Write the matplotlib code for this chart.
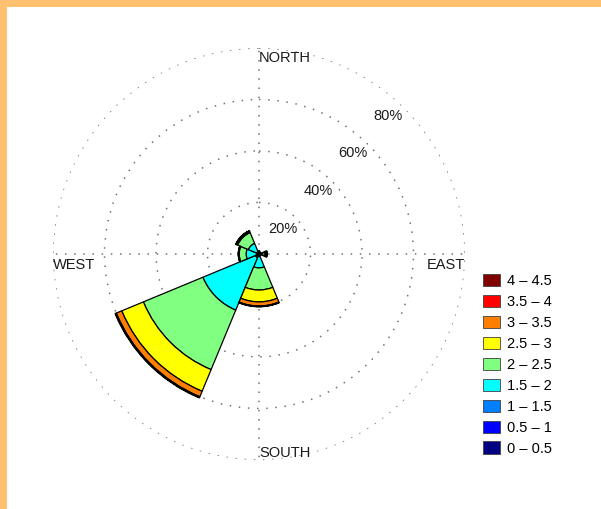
import numpy as np
import matplotlib
matplotlib.use('Agg')
import matplotlib.pyplot as plt
from matplotlib.patches import Patch, Rectangle

plt.rcParams['font.family'] = ['Liberation Sans', 'DejaVu Sans']

# --- Wind rose data (frequency in % per speed class and direction) ---
directions = [0, 45, 90, 135, 180, 225, 270, 315]   # N, NE, E, SE, S, SW, W, NW
speed_labels = ['0 – 0.5', '0.5 – 1', '1 – 1.5', '1.5 – 2', '2 – 2.5',
                '2.5 – 3', '3 – 3.5', '3.5 – 4', '4 – 4.5']
speed_colors = ['#000080', '#0000FF', '#0080FF', '#00FFFF', '#80FF80',
                '#FFFF00', '#FF8000', '#FF0000', '#800000']

# one row per speed class, one column per direction
freq = np.array([
    # N    NE    E    SE    S     SW    W     NW
    [0.3, 0.2, 0.3, 0.2, 0.3,  0.3, 0.3, 0.3],
    [0.3, 0.2, 0.3, 0.2, 0.3,  0.4, 0.3, 0.3],
    [0.4, 0.2, 0.4, 0.2, 0.4,  0.8, 0.4, 0.4],
    [0.0, 0.0, 0.5, 0.0, 4.4, 22.1, 4.0, 3.5],
    [0.0, 0.0, 0.8, 0.0, 8.6, 25.0, 2.7, 4.5],
    [0.0, 0.0, 0.3, 0.0, 4.6,  9.1, 0.2, 0.3],
    [0.0, 0.0, 0.3, 0.0, 1.6,  2.3, 0.1, 0.3],
    [0.0, 0.0, 0.2, 0.0, 0.2,  0.3, 0.0, 0.1],
    [0.0, 0.0, 0.1, 0.0, 0.1,  0.2, 0.0, 0.1],
])
rings = [20, 40, 60, 80]

fig = plt.figure(figsize=(6.01, 5.09), dpi=100, facecolor='#FFC170')
fig.add_artist(Rectangle((7 / 601, 0), 1, 1 - 7 / 509, transform=fig.transFigure,
                         facecolor='white', edgecolor='none', zorder=-5))

ax = fig.add_axes([0.0882, 0.0963, 0.6855, 0.8094], projection='polar')
ax.set_facecolor('none')
ax.set_theta_zero_location('N')
ax.set_theta_direction(-1)

theta = np.deg2rad(directions)
width = np.deg2rad(45)
bottom = np.zeros(len(directions))
for row, color in zip(freq, speed_colors):
    ax.bar(theta, row, width=width, bottom=bottom, color=color,
           edgecolor='black', linewidth=0.9, align='center', zorder=3)
    bottom += row

ax.set_rlim(0, 80)
ax.set_rgrids(rings, labels=[])
ax.set_thetagrids([0, 90, 180, 270], labels=[])
ax.grid(True, color='0.45', linestyle=(0, (1, 5)), linewidth=1.1)
ax.spines['polar'].set_visible(False)

txt = dict(fontsize=10.5, color='0.1')
for r in rings:
    ax.text(np.deg2rad(43), r - 6.5, f'{r}%', ha='center', va='center', **txt)

# compass labels, nudged off the outer ring
for name, ang, ha, va, dy in [('NORTH', 0, 'left', 'top', -2),
                              ('SOUTH', np.pi, 'left', 'bottom', 0),
                              ('WEST', 1.5 * np.pi, 'left', 'top', -3),
                              ('EAST', 0.5 * np.pi, 'right', 'top', -3)]:
    ax.annotate(name, xy=(ang, 80), xytext=(0, dy), textcoords='offset points',
                ha=ha, va=va, **txt)

handles = [Patch(facecolor=c, edgecolor='0.25', linewidth=0.6, label=l)
           for c, l in zip(speed_colors, speed_labels)][::-1]
fig.legend(handles=handles, loc='upper left', bbox_to_anchor=(0.8037, 0.4617),
           frameon=False, fontsize=10.5, handlelength=1.15, handleheight=0.9,
           labelspacing=0.47, handletextpad=0.5, borderpad=0, borderaxespad=0)

fig.savefig('out.png', dpi=100, facecolor=fig.get_facecolor())
